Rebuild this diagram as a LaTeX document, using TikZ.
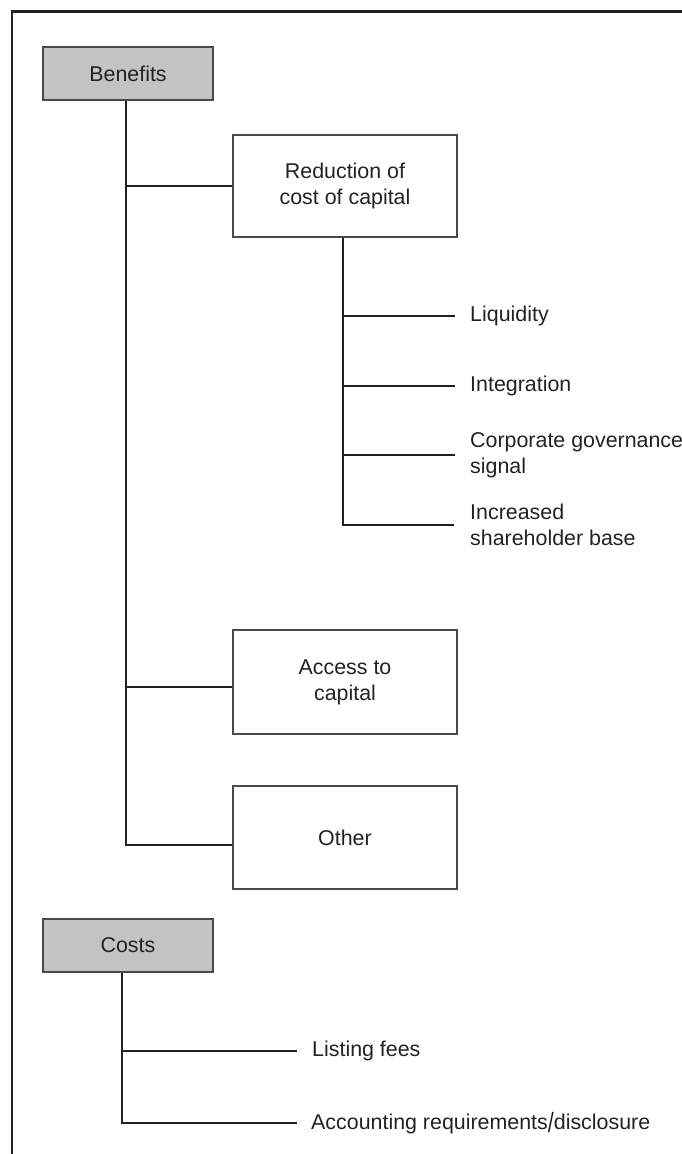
\documentclass[tikz,border=0pt]{standalone}
\usepackage{fontspec}
\setmainfont{Liberation Sans}
\definecolor{ink}{HTML}{222222}
\definecolor{boxline}{HTML}{4A4A4A}
\definecolor{headfill}{HTML}{C3C3C3}
\begin{document}
\begin{tikzpicture}[x=1pt,y=-1pt,
  every node/.style={text=ink,font=\fontsize{21.4}{26}\selectfont},
  headbox/.style={draw=boxline,line width=1.5pt,fill=headfill,minimum width=170pt,minimum height=53pt,inner sep=0pt},
  itembox/.style={draw=boxline,line width=1.5pt,fill=white,minimum width=224pt,inner sep=0pt,align=center},
  leaf/.style={anchor=west,inner sep=0pt,align=left},
  conn/.style={draw=ink,line width=1.5pt},
  frameline/.style={draw=ink,line width=2.5pt}]
\useasboundingbox (0,0) rectangle (682,1154);
% frame
\coordinate (ftl) at (12,11.5);
\coordinate (ftr) at (682,11.5);
\coordinate (fbl) at (12,1154);
\draw[frameline] (ftr) -- (ftl) -- (fbl);
% benefits
\node[headbox] (Benefits) at (128,73.5) {Benefits};
\node[itembox,minimum height=102pt] (Reduction) at (345,186) {Reduction of\\cost of capital};
\node[itembox,minimum height=104pt] (Access) at (345,682) {Access to\\capital};
\node[itembox,minimum height=103pt] (Other) at (345,837.5) {Other};
\node[leaf] (Liq) at (470,316) {Liquidity};
\node[leaf] (Int) at (470,386) {Integration};
\node[leaf] (Corp) at (470,455) {Corporate governance\\signal};
\node[leaf] (Inc) at (470,525) {Increased\\shareholder base};
% costs
\node[headbox] (Costs) at (128,945.5) {Costs};
\node[leaf] (Fees) at (312,1051) {Listing fees};
\node[leaf] (Acc) at (311,1123) {Accounting requirements\raisebox{-0.12em}{\scalebox{1}[1.3]{/}}disclosure};
% benefits connectors
\coordinate (bt) at (126,845);
\coordinate (ac) at (126,687);
\draw[conn] (Benefits.south -| bt) -- (bt) -- (bt -| Other.west);
\draw[conn] (Reduction.west -| bt) -- (Reduction.west);
\draw[conn] (ac) -- (ac -| Access.west);
% sub connectors
\coordinate (st) at (343,525);
\draw[conn] (Reduction.south -| st) -- (st) -- ([xshift=-16pt]Inc.west);
\draw[conn] (st |- Liq.west) -- ([xshift=-15pt]Liq.west);
\draw[conn] (st |- Int.west) -- ([xshift=-15pt]Int.west);
\draw[conn] (st |- Corp.west) -- ([xshift=-15pt]Corp.west);
% costs connectors
\coordinate (ct) at (122,1123);
\draw[conn] (Costs.south -| ct) -- (ct) -- ([xshift=-14pt]Acc.west);
\draw[conn] (ct |- Fees.west) -- ([xshift=-15pt]Fees.west);
\end{tikzpicture}
\end{document}
